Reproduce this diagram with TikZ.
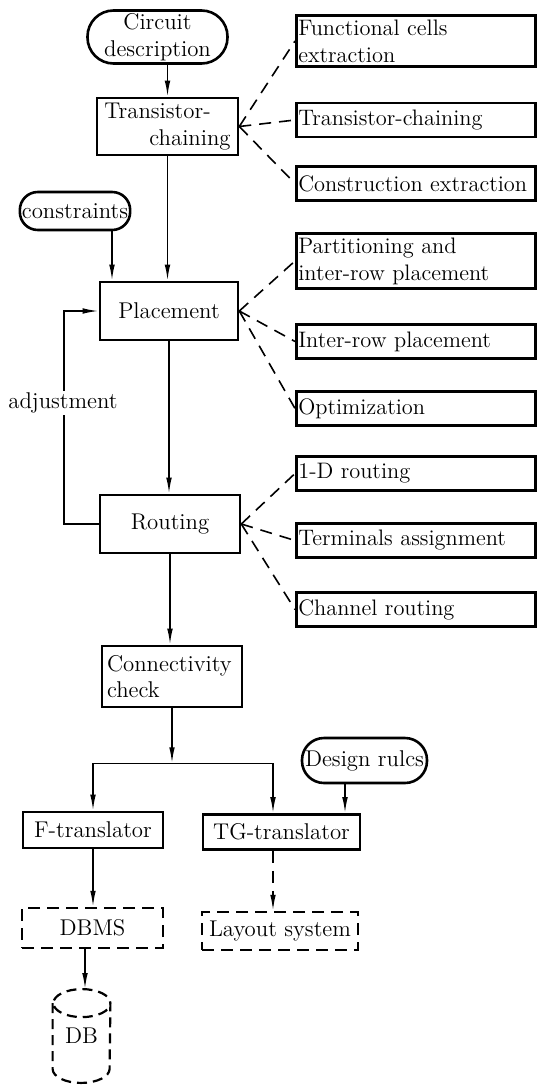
\documentclass[tikz,border=0pt]{standalone}
\usepackage{tikz}
\usetikzlibrary{arrows.meta,calc,positioning}

\begin{document}
\begin{tikzpicture}[%
    x=0.5pt, y=-0.5pt,
    font=\fontsize{11.4}{13.4}\selectfont,
    stage/.style={%
        draw,
        line width=1.3pt,
        minimum width=70pt,
        minimum height=29pt,
        inner sep=2pt,
        align=center,
    },
    term/.style={%
        stage,
        rounded corners=11pt,
    },
    task/.style={%
        stage,
        anchor=west,
        minimum height=17pt,
        inner xsep=1pt,
        text width=117.5pt,
        align=left,
        font=\fontsize{11.2}{13.4}\selectfont,
    },
    store/.style={%
        stage,
        line width=1.2pt,
        dash pattern=on 6pt off 3.5pt,
    },
    flow/.style={%
        line width=0.8pt,
        -{Latex[length=8pt,width=2.8pt]},
    },
    link/.style={%
        line width=0.8pt,
        dash pattern=on 6pt off 4pt,
    },
]
\useasboundingbox (0,0) rectangle (544,1086);
    \node[term, minimum height=26.5pt, rounded corners=13pt, inner sep=1pt] (cd) at (157.5,37) {Circuit\\description};
    \node[stage, minimum width=70.5pt, minimum height=28.5pt, align=left] (tc) at (167.5,126.5) {Transistor-\\\hspace*{22.5pt}chaining};
    \node[term, minimum width=53pt, minimum height=19pt, rounded corners=9pt, inner sep=1pt] (cs) at (75,211) {constraints};
    \node[stage, minimum width=69pt] (pl) at (169,311) {Placement};
    \node[stage] (rt) at (170,524) {Routing};
    \node[stage, minimum height=30.5pt, text width=65pt, align=left] (cc) at (172,676.5) {Connectivity\\check};
    \coordinate[below=27.5pt of cc.south] (j);
    \node[stage, minimum height=18pt] (ft) at (93,830) {F-translator};
    \node[stage, minimum width=78.5pt, minimum height=17.5pt] (tg) at (281.5,832) {TG-translator};
    \node[term, minimum width=62.5pt, minimum height=22.5pt, inner sep=0pt] (dr) at (364.5,760.5) {Design rulcs};
    \node[store, minimum width=70.5pt, minimum height=20pt] (dbms) at (92.5,928) {DBMS};
    \node[store, minimum width=78pt, minimum height=19pt] (ls) at (280,931) {Layout system};
    \node[minimum width=28.5pt, minimum height=46.5pt] (db) at (81.5,1036) {DB};

    \foreach \n/\y/\t in {%
        fc/41/{Functional cells\\extraction},
        tr/120/{Transistor-chaining},
        ce/183.5/{Construction extraction},
        pp/261/{Partitioning and\\inter-row placement},
        ir/341.5/{Inter-row placement},
        op/408.5/{Optimization},
        od/473.5/{1-D routing},
        ta/540.5/{Terminals assignment},
        ch/609.5/{Channel routing}%
    }{%
        \node[task] (\n) at (295,\y) {\t};
    }
    \foreach \s in {fc,tr,ce}
        \draw[link] (tc.east) -- (\s.west);
    \foreach \s in {pp,ir,op}
        \draw[link] (pl.east) -- (\s.west);
    \foreach \s in {od,ta,ch}
        \draw[link] (rt.east) -- (\s.west);

    \draw[flow] (cd.south -| tc) -- (tc);
    \draw[flow] ([xshift=18.5pt]cs.south) -- ([xshift=18.5pt]cs.south |- pl.north);
    \draw[flow] (tc) -- (tc |- pl.north);
    \draw[flow] (pl) -- (pl |- rt.north);
    \draw[flow] (rt) -- (rt |- cc.north);
    \draw[flow] (rt.west) -- ++(-17.5pt,0) |- (pl.west);
    \node[fill=white, inner sep=1pt] (adj) at (63,403) {adjustment};

    \draw[flow] (cc) -- (j);
    \draw[flow] (j) -| (ft);
    \draw[flow] (j) -| ([xshift=-4.25pt]tg.north);
    \draw[flow] ([xshift=-9.75pt]dr.south) -- ([xshift=-9.75pt]dr.south |- tg.north);
    \draw[flow] (ft) -- (ft |- dbms.north);
    \draw[flow, dash pattern=on 6pt off 4pt] ([xshift=-4.25pt]tg.south) -- ([xshift=-4.25pt]tg.south |- ls.north);
    \draw[flow] ([xshift=-3.75pt]dbms.south) -- ([xshift=-3.75pt]dbms.south |- db.north);

    \draw[line width=1.1pt, dash pattern=on 5pt off 3pt]
        ([yshift=-7pt]db.north west) -- ([yshift=7pt]db.south west)
        arc[start angle=180, end angle=360, x radius=14.25pt, y radius=7pt]
        -- ([yshift=-7pt]db.north east)
        arc[start angle=0, end angle=180, x radius=14.25pt, y radius=7pt]
        arc[start angle=180, end angle=360, x radius=14.25pt, y radius=7pt];
\end{tikzpicture}
\end{document}
